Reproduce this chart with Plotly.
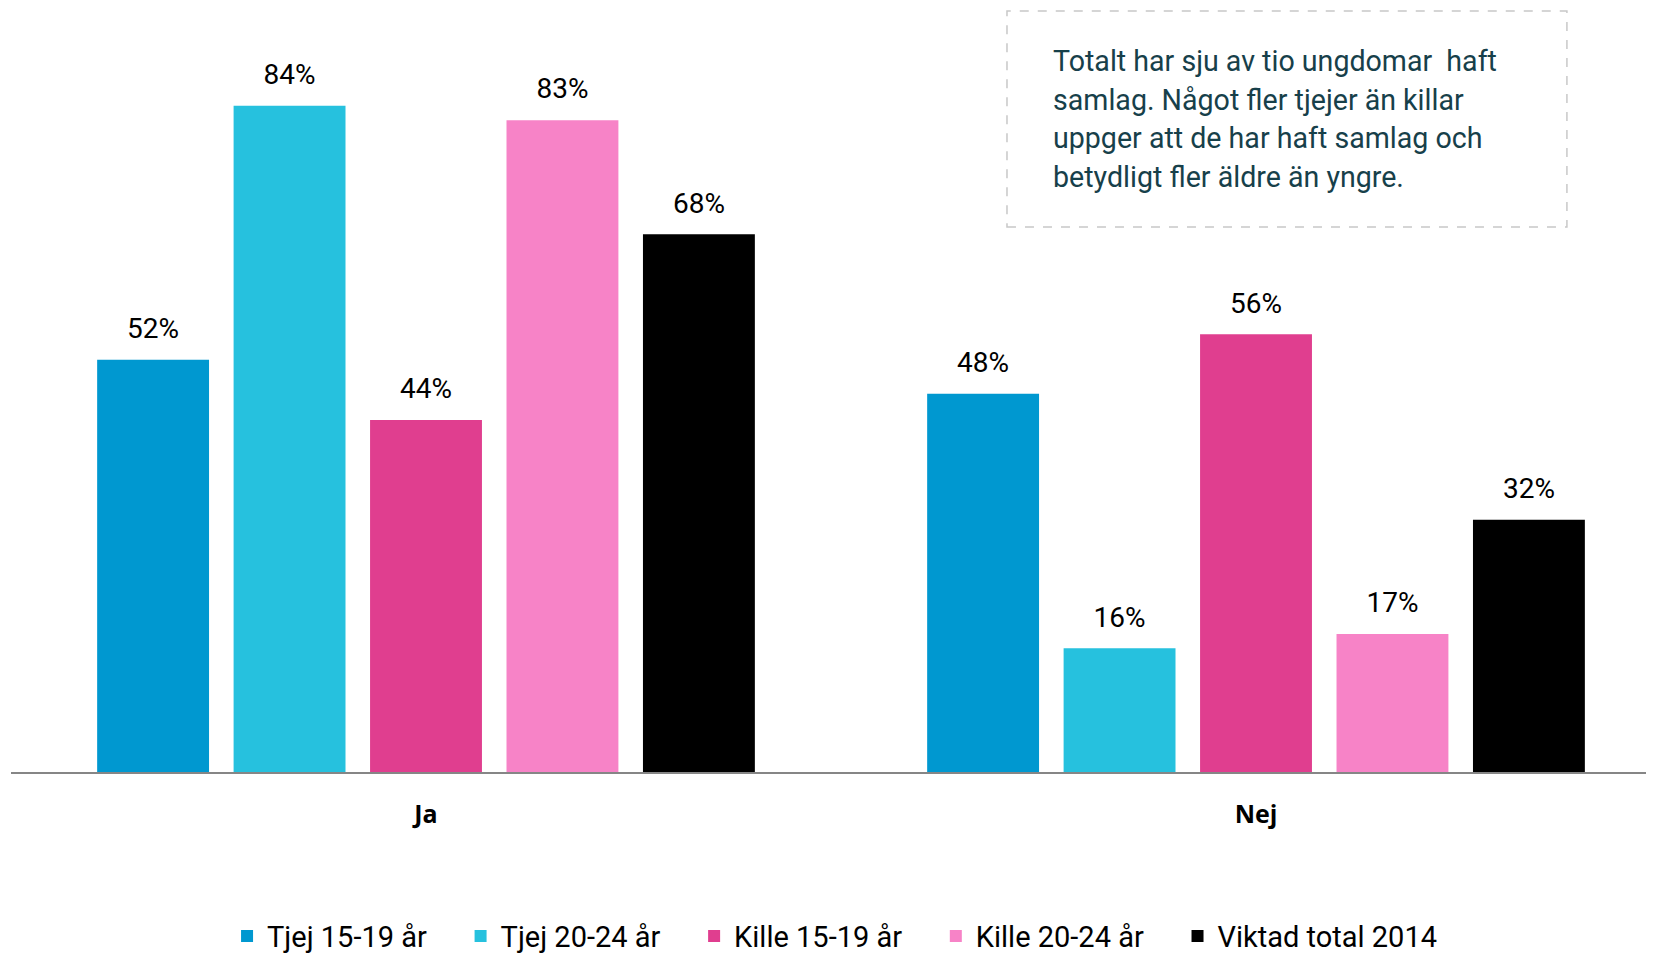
import plotly.graph_objects as go

categories = ["Ja", "Nej"]
series_names = ["Tjej 15-19 år", "Tjej 20-24 år", "Kille 15-19 år", "Kille 20-24 år", "Viktad total 2014"]
# bar heights
series_values = [
    [52.0, 47.7],
    [84.0, 15.6],
    [44.4, 55.2],
    [82.2, 17.4],
    [67.8, 31.8],
]
# labels as printed on the chart
series_labels = [
    ["52%", "48%"],
    ["84%", "16%"],
    ["44%", "56%"],
    ["83%", "17%"],
    ["68%", "32%"],
]
colors = ["#0098D0", "#26C1DE", "#E03E8F", "#F783C7", "#000000"]

note_lines = ["Totalt har sju av tio ungdomar  haft",
              "samlag. Något fler tjejer än killar",
              "uppger att de har haft samlag och",
              "betydligt fler äldre än yngre."]

FONT = "Roboto, Arial"
PAD = "\u00a0" * 4

fig = go.Figure()
for i, (name, vals, col) in enumerate(zip(series_names, series_values, colors)):
    fig.add_trace(go.Bar(
        name=name + PAD, x=categories, y=vals, offsetgroup=str(i), alignmentgroup="a",
        marker=dict(color=col, line=dict(width=0)),
    ))
# value labels, aligned with the bars through offsetgroup
for i, (vals, labels) in enumerate(zip(series_values, series_labels)):
    fig.add_trace(go.Scatter(
        x=categories, y=vals, offsetgroup=str(i), alignmentgroup="a", mode="markers+text",
        marker=dict(size=22, opacity=0), text=labels,
        textposition="top center", textfont=dict(size=28, color="#000000", family=FONT),
        showlegend=False, hoverinfo="skip", cliponaxis=False,
    ))

# dashed box around the note
fig.add_shape(type="rect", xref="paper", yref="paper",
              x0=0.6062, x1=0.947, y0=0.7134, y1=0.996,
              line=dict(color="#C8C8C8", width=1.5, dash="dash"),
              fillcolor="white", layer="above")
for i, line in enumerate(note_lines):
    fig.add_annotation(xref="paper", yref="paper", x=0.633, y=0.9306 - i * 0.0504,
                       xanchor="left", yanchor="middle", align="left", showarrow=False,
                       text=line, font=dict(size=28.6, color="#17404A", family=FONT))

fig.update_layout(
    width=1646, height=945,
    margin=dict(l=3, r=0, t=0, b=181, autoexpand=False),
    paper_bgcolor="white", plot_bgcolor="white",
    barmode="group", bargap=0.178, bargroupgap=0.18,
    scattermode="group", scattergap=0.178,
    font=dict(family=FONT, color="#000000"),
    legend=dict(orientation="h", x=0.1315, xanchor="left", y=-0.2147, yanchor="middle",
                font=dict(size=29, family=FONT), itemwidth=30, traceorder="normal"),
    xaxis=dict(range=[-0.5, 1.4795], showline=True, linecolor="#868686", linewidth=2,
               ticks="", tickfont=dict(size=25, family="Open Sans", color="#000000"),
               ticklabelstandoff=19),
    yaxis=dict(range=[0, 96.34], visible=False, showgrid=False),
)
fig.update_xaxes(tickvals=categories, ticktext=[f"<b>{c}</b>" for c in categories])

fig.write_html("out.html")
